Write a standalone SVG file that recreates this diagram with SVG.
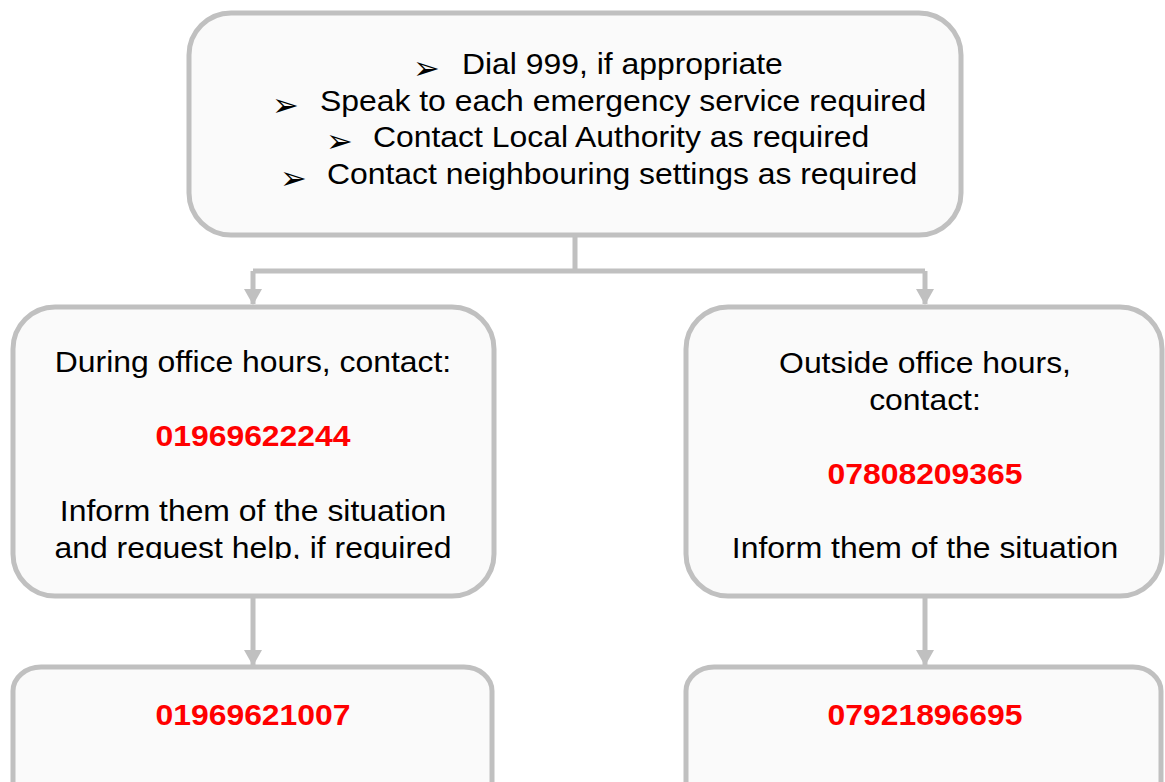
<svg xmlns="http://www.w3.org/2000/svg" width="1165" height="782" viewBox="0 0 1165 782">
<defs>
<style>
.box{fill:#fafafa;stroke:#c0c0c0;stroke-width:5}
.t{font-family:"Liberation Sans",Arial,sans-serif;font-size:29px;fill:#000}
.c{text-anchor:middle}
.r{font-family:"Liberation Sans",Arial,sans-serif;font-size:29px;font-weight:bold;fill:#ff0000;text-anchor:middle}
.b{font-family:"DejaVu Sans",sans-serif;font-size:32px;fill:#000}
.ln{fill:none;stroke:#c0c0c0;stroke-width:5}
</style>
<marker id="ah" markerUnits="userSpaceOnUse" markerWidth="16" markerHeight="18" viewBox="0 0 16 18" refX="15" refY="9" orient="auto">
<path d="M0,0 L16,9 L0,18 z" fill="#c0c0c0"/>
</marker>
<clipPath id="clipL"><rect x="0" y="0" width="1165" height="559"/></clipPath>
</defs>
<rect width="1165" height="782" fill="#ffffff"/>
<g id="connectors">
<path class="ln" d="M575,236 V271 M253,271 H925"/>
<path class="ln" d="M253,271 V304" marker-end="url(#ah)"/>
<path class="ln" d="M925,271 V304" marker-end="url(#ah)"/>
<path class="ln" d="M253,596 V665" marker-end="url(#ah)"/>
<path class="ln" d="M925,596 V665" marker-end="url(#ah)"/>
</g>
<g id="top">
<rect class="box" x="189" y="13" width="772" height="222" rx="42" ry="42"/>
<text class="b" x="413" y="79">➢</text>
<text class="t" transform="translate(462,74) scale(1.1,1)">Dial 999, if appropriate</text>
<text class="b" x="272" y="116">➢</text>
<text class="t" transform="translate(320,111) scale(1.1,1)">Speak to each emergency service required</text>
<text class="b" x="326" y="152">➢</text>
<text class="t" transform="translate(373,147) scale(1.1,1)">Contact Local Authority as required</text>
<text class="b" x="280" y="189">➢</text>
<text class="t" transform="translate(327,184) scale(1.1,1)">Contact neighbouring settings as required</text>
</g>
<g id="office">
<rect class="box" x="13" y="307" width="481" height="289" rx="42" ry="42"/>
<text class="t c" transform="translate(253,372) scale(1.1,1)">During office hours, contact:</text>
<text class="r" transform="translate(253,446) scale(1.1,1)">01969622244</text>
<text class="t c" transform="translate(253,521) scale(1.1,1)">Inform them of the situation</text>
<g clip-path="url(#clipL)"><text class="t c" transform="translate(253,558) scale(1.1,1)">and request help, if required</text></g>
</g>
<g id="outside">
<rect class="box" x="686" y="307" width="476" height="289" rx="42" ry="42"/>
<text class="t c" transform="translate(925,373) scale(1.1,1)">Outside office hours,</text>
<text class="t c" transform="translate(925,410) scale(1.1,1)">contact:</text>
<text class="r" transform="translate(925,484) scale(1.1,1)">07808209365</text>
<text class="t c" transform="translate(925,558) scale(1.1,1)">Inform them of the situation</text>
</g>
<g id="office2">
<rect class="box" x="13" y="667" width="479" height="170" rx="28" ry="24"/>
<text class="r" transform="translate(253,725) scale(1.1,1)">01969621007</text>
</g>
<g id="outside2">
<rect class="box" x="686" y="667" width="475" height="170" rx="28" ry="24"/>
<text class="r" transform="translate(925,725) scale(1.1,1)">07921896695</text>
</g>
</svg>
